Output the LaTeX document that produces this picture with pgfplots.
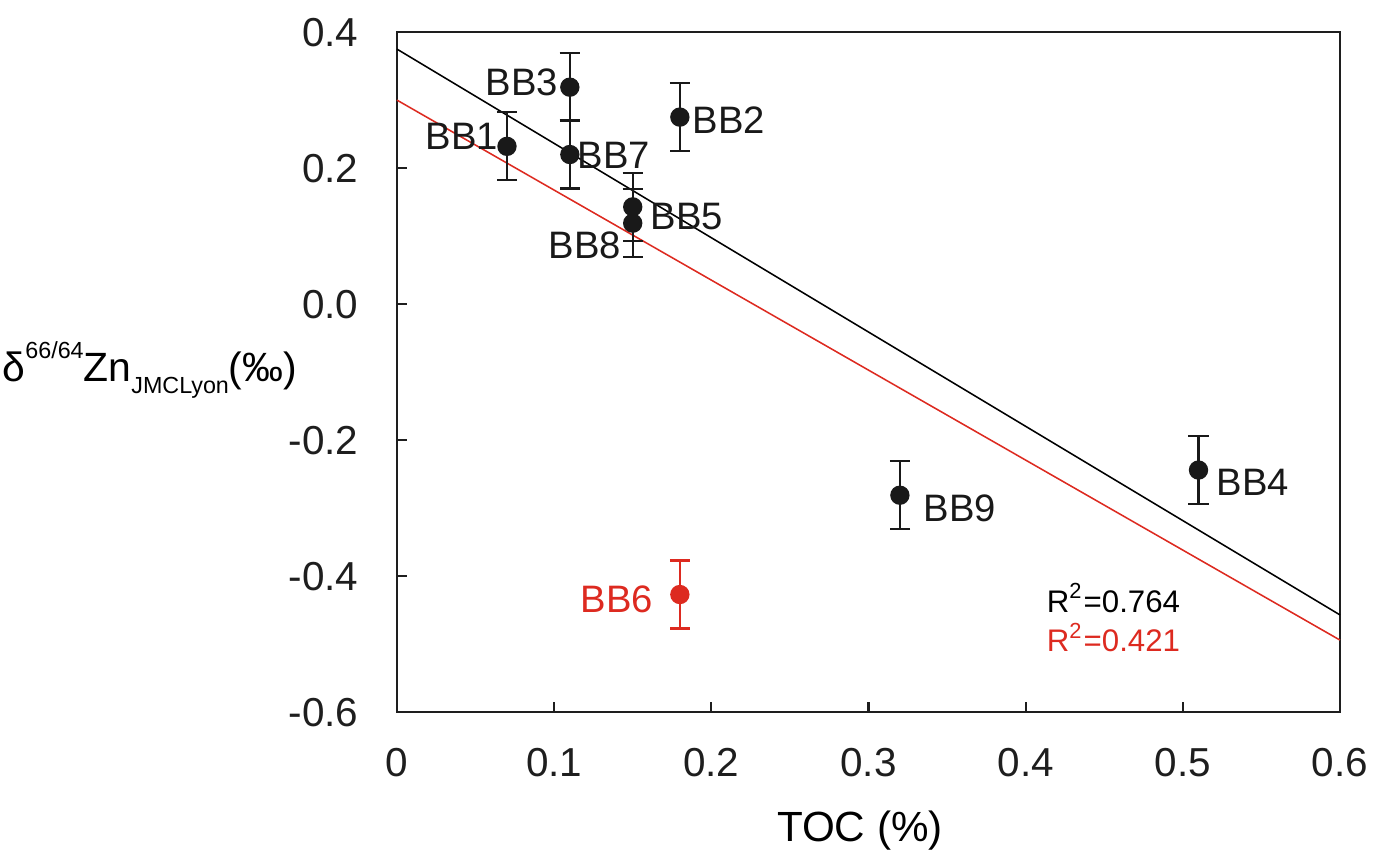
\documentclass[border=0pt]{standalone}
\usepackage{fontspec}
\setmainfont{Liberation Sans}
\usepackage{pgfplots}
\pgfplotsset{compat=1.18}
\usepackage{pgfplotstable}
\definecolor{zred}{RGB}{221,42,32}
\definecolor{axgray}{RGB}{30,30,30}
\newcommand{\smallidx}[1]{{\fontsize{5.3}{6}\selectfont #1}}

% TOC (%), delta66Zn, 2SD
\pgfplotstableread{
x y e
0.07 0.232 0.05
0.11 0.319 0.05
0.11 0.220 0.05
0.18 0.275 0.05
0.15 0.143 0.05
0.15 0.119 0.05
0.32 -0.281 0.05
0.51 -0.244 0.05
}\blackdata
\pgfplotstableread{
x y e
0.18 -0.427 0.05
}\reddata

\begin{document}
\begin{tikzpicture}
\begin{axis}[
    name=main,
    scale only axis,
    width=214.5pt, height=154.7pt,
    xmin=0, xmax=0.6, ymin=-0.6, ymax=0.4,
    axis line style={axgray, line width=0.5pt},
    tick style={axgray, line width=0.5pt},
    tick pos=left, tick align=inside,
    major tick length=2.3pt,
    xtick={0,0.1,0.2,0.3,0.4,0.5,0.6},
    xticklabels={0,0.1,0.2,0.3,0.4,0.5,0.6},
    ytick={-0.6,-0.4,-0.2,0,0.2,0.4},
    yticklabels={-0.6,-0.4,-0.2,0.0,0.2,0.4},
    ticklabel style={font=\fontsize{9.2}{11}\selectfont, text=axgray},
    xticklabel style={inner sep=0pt, anchor=north, yshift=-7.9pt},
    yticklabel style={inner sep=0pt, anchor=east, xshift=-8.6pt},
    xlabel={TOC (\%)},
    xlabel style={at={(axis description cs:0.491,-0.1735)}, anchor=center, font=\fontsize{9.6}{11}\selectfont},
    clip=false,
]
% regression lines
\addplot[black, line width=0.35pt] coordinates {(0,0.375) (0.6,-0.457)};
\addplot[zred, line width=0.35pt] coordinates {(0,0.300) (0.6,-0.494)};
% samples
\addplot[only marks, mark=*, mark size=2pt, color=black!90,
    error bars/.cd, y dir=both, y explicit,
    error mark options={rotate=90, mark size=2.3pt, line width=0.5pt},
    error bar style={line width=0.5pt}]
    table[x=x, y=y, y error=e] {\blackdata};
\addplot[only marks, mark=*, mark size=2pt, color=zred,
    error bars/.cd, y dir=both, y explicit,
    error mark options={rotate=90, mark size=2.3pt, line width=0.5pt},
    error bar style={line width=0.5pt}]
    table[x=x, y=y, y error=e] {\reddata};
% sample names
\begin{scope}[every node/.style={font=\fontsize{8.7}{10}\selectfont, text=black!90, inner sep=0pt}]
\node at (axis cs:0.0795,0.3265) {BB3};
\node at (axis cs:0.0414,0.247) {BB1};
\node at (axis cs:0.1381,0.219) {BB7};
\node at (axis cs:0.2112,0.2706) {BB2};
\node at (axis cs:0.1845,0.129) {BB5};
\node at (axis cs:0.1196,0.0868) {BB8};
\node at (axis cs:0.3582,-0.300) {BB9};
\node at (axis cs:0.5446,-0.262) {BB4};
\node[text=zred] at (axis cs:0.1399,-0.434) {BB6};
\end{scope}
\node[anchor=west, inner sep=0pt, font=\fontsize{7.1}{9}\selectfont] at (axis cs:0.4129,-0.432) {R\textsuperscript{2}=0.764};
\node[anchor=west, inner sep=0pt, font=\fontsize{7.1}{9}\selectfont, text=zred] at (axis cs:0.4129,-0.490) {R\textsuperscript{2}=0.421};
% y axis title, set horizontally
\node[anchor=east, inner sep=0pt, font=\fontsize{9.3}{12}\selectfont]
    at (axis description cs:-0.105,0.503)
    {δ\raisebox{1.05ex}{\smallidx{66/64}}Zn\raisebox{-0.55ex}{\smallidx{JMCLyon}}(‰)};
\end{axis}
\pgfresetboundingbox
\path[use as bounding box] ([shift={(-90.3pt,-32.5pt)}]main.south west) rectangle ([shift={(8.2pt,7.3pt)}]main.north east);
\end{tikzpicture}
\end{document}
